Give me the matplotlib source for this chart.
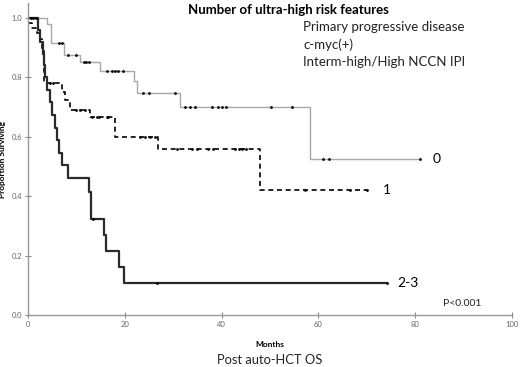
import matplotlib
matplotlib.use("Agg")
import matplotlib.pyplot as plt

plt.rcParams['font.family'] = ['Lato', 'DejaVu Sans']

# Kaplan-Meier step values (months, proportion surviving)
t0 = [0, 3.9, 4.8, 7.5, 10.7, 14.9, 21.8, 22.5, 31.5, 58.3, 81.0]
s0 = [1.0, 0.978, 0.915, 0.875, 0.85, 0.82, 0.786, 0.746, 0.70, 0.524, 0.524]
c0 = [0.6, 1.0, 1.6, 6.5, 7.0, 8.3, 10.0, 11.5, 12.0, 12.7, 16.3, 17.3, 17.9,
      18.6, 19.7, 23.8, 24.9, 30.4, 32.4, 33.5, 34.5, 38.0, 39.3, 40.0, 41.0,
      50.3, 54.5, 61.0, 62.1, 81.0]

t1 = [0, 0.8, 1.8, 2.4, 2.8, 3.3, 7.0, 7.6, 8.7, 12.8, 18.0, 26.9, 47.9, 70.0]
s1 = [0.983, 0.965, 0.948, 0.93, 0.895, 0.78, 0.752, 0.724, 0.69, 0.666, 0.60,
      0.559, 0.421, 0.421]
c1 = [4.6, 5.1, 10.0, 10.7, 11.8, 13.2, 14.2, 14.6, 16.3, 16.6, 23.1, 24.2, 25.2,
      26.2, 30.7, 33.9, 35.0, 37.1, 38.3, 42.8, 43.6, 44.3, 45.0, 57.2, 66.5, 70.0]

t23 = [0, 2.1, 2.5, 3.0, 3.3, 3.6, 4.0, 4.5, 4.9, 5.5, 5.9, 6.5, 7.1, 8.3, 12.7,
       13.0, 15.7, 16.1, 18.9, 19.8, 74.1]
s23 = [1.0, 0.96, 0.92, 0.88, 0.84, 0.80, 0.758, 0.716, 0.673, 0.63, 0.59, 0.545,
       0.505, 0.46, 0.415, 0.322, 0.269, 0.215, 0.163, 0.107, 0.107]
c23 = [13.4, 26.6, 74.1]

groups = ["0", "1", "2-3"]
features = ["Primary progressive disease", "c-myc(+)", "Interm-high/High NCCN IPI"]


def surv_at(t, times, surv):
    val = surv[0]
    for ti, si in zip(times, surv):
        if ti <= t:
            val = si
    return val


fig = plt.figure(figsize=(5.2, 3.67), dpi=100)
ax = fig.add_axes([28 / 520, 1 - 315 / 367, 484 / 520, 312 / 367])

ax.step(t0, s0, where='post', color='#a8a8a8', lw=1.0)
ax.step(t1, s1, where='post', color='black', lw=1.2, linestyle=(0, (3, 2.2)))
ax.step(t23, s23, where='post', color='#2a2a2a', lw=1.6)

for times, surv, cens in [(t0, s0, c0), (t1, s1, c1), (t23, s23, c23)]:
    ax.plot(cens, [surv_at(c, times, surv) for c in cens], 'o', color='black',
            markersize=2.0, markeredgewidth=0)

ax.set_xlim(0, 100)
ax.set_ylim(0, 1.05)
ax.set_xticks([0, 20, 40, 60, 80, 100])
ax.set_yticks([0.0, 0.2, 0.4, 0.6, 0.8, 1.0])
ax.set_yticklabels(["0.0", "0.2", "0.4", "0.6", "0.8", "1.0"])
ax.tick_params(direction='inout', length=5, width=0.8, color='#888888',
               labelsize=5.5, labelcolor='#666666', pad=2)
for side in ['top', 'right']:
    ax.spines[side].set_visible(False)
for side in ['left', 'bottom']:
    ax.spines[side].set_color('#999999')
    ax.spines[side].set_linewidth(1.0)

ax.set_xlabel("Months", fontsize=6, fontweight='bold', labelpad=9)
ax.set_ylabel("Proportion Surviving", fontsize=6, fontweight='bold', labelpad=4)

# group labels at the end of each curve
ax.text(83.7, 0.524, groups[0], fontsize=10, va='center', ha='left')
ax.text(73.3, 0.421, groups[1], fontsize=10, va='center', ha='left')
ax.text(76.2, 0.107, groups[2], fontsize=10, va='center', ha='left')
ax.text(85.7, 0.04, "P<0.001", fontsize=7.5, va='center', ha='left', color='#222222')

fig.text(188 / 520, 1 - 10 / 367, "Number of ultra-high risk features",
         fontsize=9.5, fontweight='bold', va='center', ha='left')
for i, f in enumerate(features):
    fig.text(303 / 520, 1 - (27 + 17.5 * i) / 367, f, fontsize=9.5,
             va='center', ha='left', color='#222222')

fig.text(270 / 520, 1 - 360 / 367, "Post auto-HCT OS", fontsize=9.3,
         va='center', ha='center', color='#222222')

fig.savefig("out.png", dpi=100)
